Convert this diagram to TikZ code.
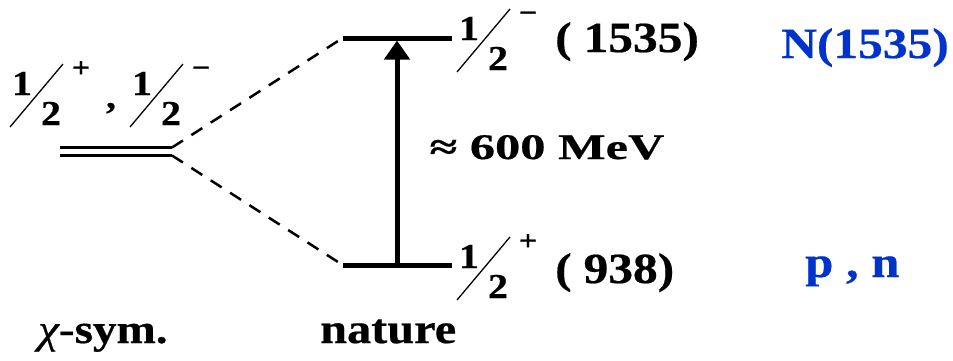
\documentclass[tikz,border=0pt]{standalone}
\usepackage{fontspec}
\setmainfont{Liberation Serif}
\newfontfamily\labelfont[FakeStretch=1.15, FakeBold=0.5]{Liberation Serif}
\newfontfamily\gapfont[FakeStretch=1.4, FakeBold=0.5]{Liberation Serif}
\usetikzlibrary{arrows.meta}
\definecolor{stateblue}{RGB}{0,51,204}

\tikzset{
  txt/.style={inner sep=0pt, font=\labelfont\bfseries\fontsize{#1}{#1}\selectfont},
  level/.style={line width=5pt},
  degen/.style={line width=3pt},
  split/.style={line width=2.5pt, dash pattern=on 13pt off 10pt},
  gaparrow/.style={line width=5pt, -{Triangle[width=25pt,length=19pt]}},
  pics/spinhalf/.style={code={
    \draw[line width=1.3pt] (0,0) -- (53,-63);
    \node[txt=35, anchor=base] at (12,-32) {1};
    \node[txt=35, anchor=base] at (41,-2) {2};
    \node[txt=28, anchor=base] at (71,-50) {#1};
  }}
}

\begin{document}
\begin{tikzpicture}[x=1pt, y=-1pt]
  \useasboundingbox (0,0) rectangle (953,360);
  % entartetes Niveau (chirale Symmetrie)
  \coordinate (deg-l1) at (60,147.5);
  \coordinate (deg-r1) at (172,147.5);
  \coordinate (deg-l2) at (60,155.5);
  \coordinate (deg-r2) at (172,155.5);
  \draw[degen] (deg-l1) -- (deg-r1) (deg-l2) -- (deg-r2);
  % physikalische Niveaus
  \coordinate (up-l) at (343,38);
  \coordinate (up-r) at (452,38);
  \coordinate (lo-l) at (343,265);
  \coordinate (lo-r) at (452,265);
  \draw[level] (up-l) -- (up-r) (lo-l) -- (lo-r);
  % Aufspaltung
  \coordinate (split-up) at (338,41);
  \coordinate (split-lo) at (338,262);
  \draw[split] (deg-r1) -- (split-up);
  \draw[split] (deg-r2) -- (split-lo);
  % Massenlücke
  \coordinate (gap-lo) at (397,265);
  \coordinate (gap-up) at (397,40.5);
  \draw[gaparrow] (gap-lo) -- (gap-up);
  \node[inner sep=0pt, anchor=base, font=\gapfont\bfseries\fontsize{36}{36}\selectfont] (gap) at (547,159) {≈ 600 MeV};
  % Quantenzahlen
  \pic at (10,127) {spinhalf=+};
  \node[txt=35, anchor=base] (comma) at (111,108) {,};
  \pic at (130,127) {spinhalf=−};
  \pic at (457,72) {spinhalf=−};
  \pic at (457,300) {spinhalf=+};
  \node[txt=43, anchor=base west] (m-star) at (555,52) {(\;1535)};
  \node[txt=43, anchor=base west] (m-nuc) at (555,283) {(\;938)};
  % Zustände
  \node[txt=43, anchor=base east, text=stateblue] (n-star) at (949,58) {N(1535)};
  \node[txt=44, anchor=base west, text=stateblue] (nucleon) at (805,277) {p , n};
  % Beschriftung unten
  \node[txt=41, anchor=base west] (chi) at (38,343) {{\mdseries\itshape χ}-sym.};
  \node[txt=42, anchor=base west] (nature) at (320,343) {nature};
\end{tikzpicture}
\end{document}
